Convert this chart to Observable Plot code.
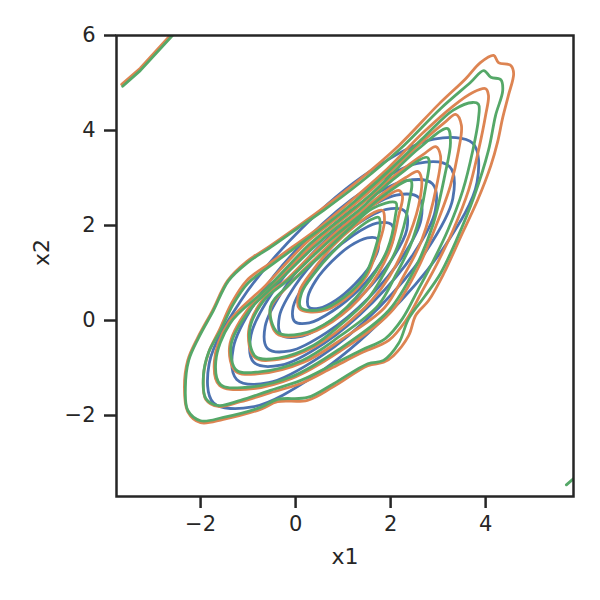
<!DOCTYPE html>
<html><head><meta charset="utf-8">
<script src="https://cdn.jsdelivr.net/npm/d3@7"></script>
<script src="https://cdn.jsdelivr.net/npm/@observablehq/plot@0.6"></script>
<style>body{margin:0;background:#fff;}</style>
</head><body><div id="chart"></div>
<script>
const xTicks = [-2, 0, 2, 4];
const yTicks = [-2, 0, 2, 4, 6];
const xDomain = [-3.77, 5.85];
const yDomain = [-3.705, 6.0];
const xLabel = "x1";
const yLabel = "x2";

const blueContours = [
  [[3.73,3.73],[2.91,3.82],[1.58,3.15],[0.10,1.91],[-1.15,0.42],[-1.82,-0.91],[-1.73,-1.73],[-0.91,-1.82],[0.42,-1.15],[1.91,0.10],[3.15,1.58],[3.82,2.91]],
  [[3.24,3.24],[2.57,3.31],[1.48,2.76],[0.26,1.74],[-0.76,0.52],[-1.31,-0.57],[-1.24,-1.24],[-0.57,-1.31],[0.52,-0.76],[1.74,0.26],[2.76,1.48],[3.31,2.57]],
  [[2.88,2.88],[2.31,2.94],[1.40,2.48],[0.38,1.62],[-0.48,0.60],[-0.94,-0.31],[-0.88,-0.88],[-0.31,-0.94],[0.60,-0.48],[1.62,0.38],[2.48,1.40],[2.94,2.31]],
  [[2.59,2.59],[2.12,2.64],[1.34,2.25],[0.47,1.53],[-0.25,0.66],[-0.64,-0.12],[-0.59,-0.59],[-0.12,-0.64],[0.66,-0.25],[1.53,0.47],[2.25,1.34],[2.64,2.12]],
  [[2.30,2.30],[1.91,2.34],[1.28,2.02],[0.57,1.43],[-0.02,0.72],[-0.34,0.09],[-0.30,-0.30],[0.09,-0.34],[0.72,-0.02],[1.43,0.57],[2.02,1.28],[2.34,1.91]],
  [[2.02,2.02],[1.71,2.05],[1.22,1.80],[0.66,1.34],[0.20,0.78],[-0.05,0.29],[-0.02,-0.02],[0.29,-0.05],[0.78,0.20],[1.34,0.66],[1.80,1.22],[2.05,1.71]],
  [[1.72,1.72],[1.51,1.74],[1.15,1.57],[0.76,1.24],[0.43,0.85],[0.26,0.50],[0.28,0.28],[0.50,0.26],[0.85,0.43],[1.24,0.76],[1.57,1.15],[1.74,1.51]]
];

const orangeContours = [
  [[-2.27,-1.92],[-2.34,-1.41],[-2.27,-0.84],[-2.06,-0.36],[-1.75,0.21],[-1.43,0.84],[-1.03,1.24],[-0.55,1.56],[0.02,1.96],[0.57,2.36],[1.33,2.95],[2.17,3.68],[3.01,4.55],[3.58,5.09],[3.89,5.43],[4.17,5.58],[4.27,5.43],[4.53,5.37],[4.59,5.20],[4.48,4.74],[4.36,4.27],[4.25,3.75],[4.11,3.26],[3.83,2.53],[3.47,1.75],[3.12,0.99],[2.80,0.42],[2.53,0.11],[2.38,-0.32],[2.06,-0.74],[1.85,-0.88],[1.52,-0.95],[0.80,-1.39],[0.25,-1.68],[-0.38,-1.71],[-0.74,-1.87],[-1.52,-2.08],[-2.00,-2.15]],
  [[-1.89,-1.66],[-1.94,-1.18],[-1.83,-0.67],[-1.60,-0.19],[-1.35,0.36],[-1.03,0.84],[-0.55,1.20],[-0.02,1.58],[0.55,2.00],[1.18,2.53],[1.94,3.20],[2.67,3.94],[3.31,4.51],[3.73,4.80],[4.00,4.88],[4.06,4.74],[4.00,4.32],[3.85,3.58],[3.64,2.74],[3.31,1.89],[2.99,1.22],[2.65,0.59],[2.32,0.00],[1.96,-0.42],[1.41,-0.67],[0.78,-0.99],[0.15,-1.31],[-0.53,-1.52],[-1.16,-1.71],[-1.62,-1.81]],
  [[-1.60,-1.37],[-1.71,-0.86],[-1.41,-0.04],[-0.63,0.74],[0.27,1.68],[0.95,2.21],[1.58,2.74],[2.55,3.66],[3.14,4.17],[3.37,4.34],[3.49,4.11],[3.43,3.58],[3.26,2.84],[2.95,1.98],[2.55,1.05],[2.00,0.17],[0.93,-0.65],[-0.08,-1.22],[-1.05,-1.45]],
  [[-1.26,-1.07],[-1.39,-0.55],[-1.01,0.23],[-0.40,0.84],[0.32,1.56],[0.80,1.98],[1.28,2.36],[2.11,3.07],[2.72,3.52],[2.95,3.66],[3.05,3.47],[2.97,2.84],[2.65,1.68],[2.27,0.93],[1.87,0.27],[0.99,-0.38],[0.17,-0.88],[-0.76,-1.12]],
  [[-0.86,-0.78],[-0.99,-0.23],[-0.69,0.44],[-0.17,0.88],[0.36,1.41],[0.82,1.83],[1.28,2.21],[1.83,2.67],[2.32,3.01],[2.57,3.14],[2.65,2.99],[2.59,2.42],[2.29,1.54],[1.98,0.93],[1.60,0.42],[1.03,-0.11],[0.40,-0.55],[-0.36,-0.82]],
  [[-0.40,-0.27],[-0.53,0.25],[-0.17,0.72],[0.46,1.35],[1.14,2.00],[1.60,2.40],[1.94,2.63],[2.17,2.74],[2.25,2.61],[2.17,2.21],[1.98,1.47],[1.49,0.63],[0.78,-0.02],[0.11,-0.32]],
  [[0.08,0.25],[0.08,0.61],[0.36,1.05],[0.78,1.56],[1.26,2.00],[1.64,2.27],[1.83,2.32],[1.87,2.08],[1.75,1.60],[1.49,0.93],[1.03,0.44],[0.53,0.19]]
];

const greenContours = [
  [[-2.27,-1.89],[-2.32,-1.41],[-2.25,-0.84],[-2.04,-0.36],[-1.73,0.21],[-1.41,0.84],[-1.01,1.22],[-0.53,1.54],[0.04,1.94],[0.59,2.32],[1.37,2.91],[2.21,3.62],[3.05,4.46],[3.68,5.01],[3.96,5.26],[4.11,5.12],[4.32,5.07],[4.36,4.84],[4.21,4.32],[4.06,3.58],[3.75,2.59],[3.41,1.75],[3.05,0.99],[2.72,0.51],[2.38,0.04],[2.17,-0.48],[1.85,-0.84],[1.52,-0.91],[0.80,-1.33],[0.25,-1.62],[-0.38,-1.66],[-0.74,-1.83],[-1.52,-2.04],[-2.00,-2.11]],
  [[-1.89,-1.64],[-1.94,-1.16],[-1.83,-0.67],[-1.58,-0.21],[-1.32,0.33],[-1.00,0.79],[-0.52,1.16],[0.00,1.54],[0.57,1.96],[1.21,2.48],[1.96,3.15],[2.71,3.87],[3.32,4.43],[3.73,4.59],[3.85,4.55],[3.85,4.25],[3.73,3.58],[3.52,2.74],[3.20,1.89],[2.88,1.22],[2.57,0.63],[2.25,0.04],[1.89,-0.38],[1.37,-0.63],[0.74,-0.95],[0.11,-1.26],[-0.53,-1.47],[-1.16,-1.68],[-1.62,-1.79]],
  [[-1.58,-1.35],[-1.68,-0.86],[-1.38,-0.06],[-0.59,0.69],[0.32,1.63],[0.98,2.16],[1.61,2.68],[2.58,3.61],[3.20,4.04],[3.26,3.75],[3.14,3.05],[2.89,2.01],[2.51,1.09],[1.96,0.21],[0.91,-0.61],[-0.10,-1.19],[-1.07,-1.41]],
  [[-1.24,-1.05],[-1.36,-0.53],[-0.99,0.19],[-0.36,0.82],[0.36,1.52],[0.84,1.94],[1.33,2.32],[2.13,3.03],[2.78,3.43],[2.74,2.82],[2.46,1.69],[2.11,0.96],[1.74,0.32],[0.93,-0.33],[0.14,-0.84],[-0.76,-1.08]],
  [[-0.84,-0.76],[-0.97,-0.23],[-0.67,0.42],[-0.15,0.86],[0.38,1.37],[0.84,1.79],[1.31,2.17],[1.85,2.63],[2.42,2.95],[2.38,2.45],[2.14,1.55],[1.84,0.95],[1.52,0.45],[0.98,-0.06],[0.38,-0.52],[-0.36,-0.79]],
  [[-0.38,-0.25],[-0.53,0.29],[-0.13,0.76],[0.51,1.35],[1.16,1.96],[1.62,2.36],[2.11,2.48],[2.10,2.20],[1.93,1.49],[1.43,0.67],[0.75,0.01],[0.11,-0.28]],
  [[0.11,0.27],[0.13,0.59],[0.41,1.01],[0.82,1.48],[1.28,1.91],[1.60,2.13],[1.75,2.17],[1.78,1.98],[1.69,1.56],[1.45,0.93],[1.01,0.48],[0.54,0.23]]
];

const orangeEdgeLines = [
  [[-3.66,4.97],[-3.27,5.31],[-2.55,6.10]]
];
const greenEdgeLines = [
  [[-3.64,4.93],[-3.27,5.26],[-2.50,6.10]],
  [[5.70,-3.46],[5.95,-3.24]]
];

const blueColor = "#4c72b0", orangeColor = "#dd8452", greenColor = "#55a868";
const ink = "#262626";

function rows(contours, series) {
  return contours.flatMap((c, i) => c.map(([x, y]) => ({x, y, id: series + i})));
}
const fmt = d => d < 0 ? "\u2212" + (-d) : String(d);

const lineOpts = (stroke, curve) => ({x: "x", y: "y", z: "id", stroke, strokeWidth: 2.8, curve, clip: true});

const chart = Plot.plot({
  width: 600,
  height: 600,
  marginLeft: 116,
  marginRight: 27,
  marginTop: 35,
  marginBottom: 104,
  style: {background: "#fff", color: ink, fontFamily: "DejaVu Sans", fontSize: "21px"},
  x: {domain: xDomain},
  y: {domain: yDomain},
  marks: [
    Plot.line(rows(blueContours, "b"), lineOpts(blueColor, "catmull-rom-closed")),
    Plot.line(rows(orangeContours, "o"), lineOpts(orangeColor, "catmull-rom-closed")),
    Plot.line(rows(orangeEdgeLines, "oe"), lineOpts(orangeColor, "linear")),
    Plot.line(rows(greenContours, "g"), lineOpts(greenColor, "catmull-rom-closed")),
    Plot.line(rows(greenEdgeLines, "ge"), lineOpts(greenColor, "linear")),
    Plot.frame({stroke: ink, strokeWidth: 2.5}),
    Plot.axisX(xTicks, {tickSize: 12, tickPadding: 8, strokeWidth: 2.5, fontSize: 21, label: null, tickFormat: fmt}),
    Plot.axisY(yTicks, {tickSize: 12, tickPadding: 9, strokeWidth: 2.5, fontSize: 21, label: null, tickFormat: fmt}),
    Plot.text([xLabel], {text: d => d, frameAnchor: "bottom", dy: 67, fontSize: 22, fill: ink}),
    Plot.text([yLabel], {text: d => d, frameAnchor: "left", dx: -75, rotate: -90, fontSize: 22, fill: ink})
  ]
});
document.getElementById("chart").appendChild(chart);
</script>
</body></html>
